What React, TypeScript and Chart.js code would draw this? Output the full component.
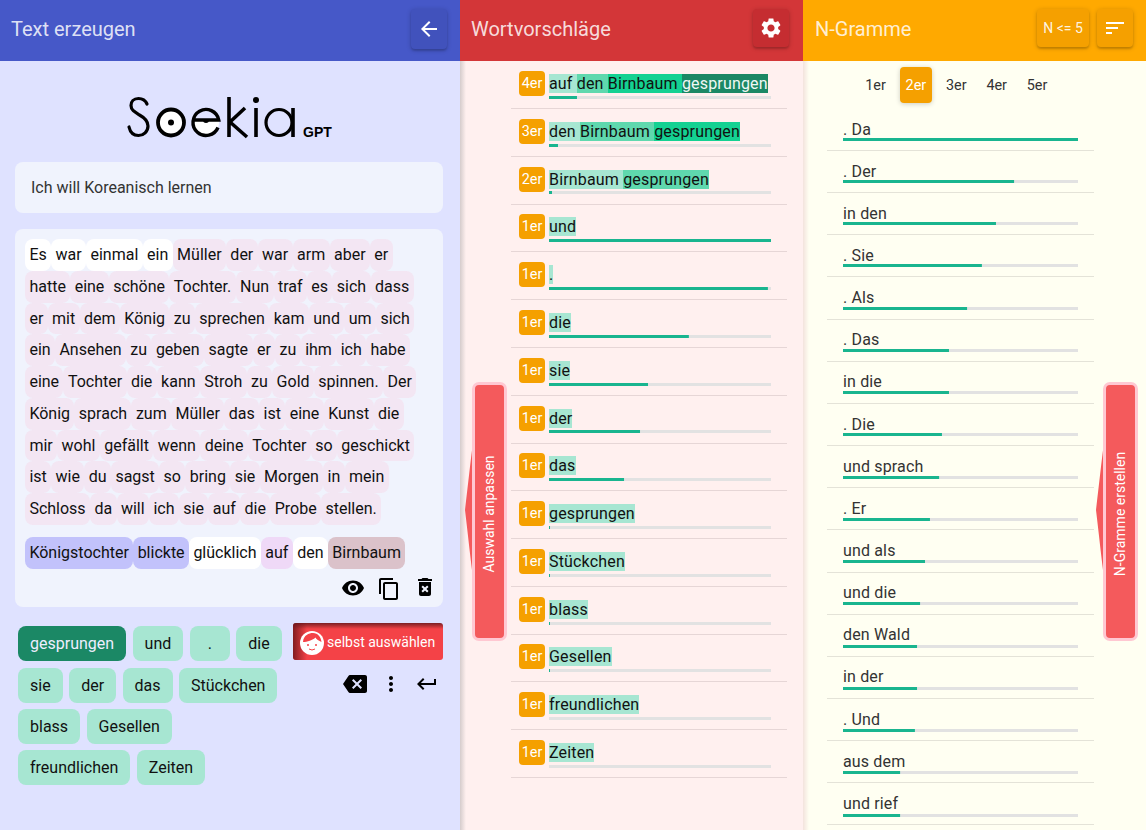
import React, { useEffect, useRef } from "react";
import { Chart, registerables } from "chart.js";

Chart.register(...registerables);

const suggestionWords = [
  ["auf", "den", "Birnbaum", "gesprungen"],
  ["den", "Birnbaum", "gesprungen"],
  ["Birnbaum", "gesprungen"],
  ["und"], ["."], ["die"], ["sie"], ["der"], ["das"], ["gesprungen"],
  ["Stückchen"], ["blass"], ["Gesellen"], ["freundlichen"], ["Zeiten"],
];
const suggestionValues = [12.6, 4.05, 1.35, 100, 98.6, 63, 44.6, 41, 33.8, 0.45, 0.45, 0.45, 0.45, 0, 0];

const ngramLabels = [
  ". Da", ". Der", "in den", ". Sie", ". Als", ". Das", "in die", ". Die", "und sprach",
  ". Er", "und als", "und die", "den Wald", "in der", ". Und", "aus dem", "und rief",
];
const ngramValues = [100, 72.8, 65.1, 59.1, 52.8, 45.1, 45.1, 42.1, 40.9, 37, 34.9, 32.8, 31.5, 31.5, 30.6, 24.3, 24.3];

const ngramTabs = ["1er", "2er", "3er", "4er", "5er"];

const storyLines = [
  "Es war einmal ein Müller der war arm aber er",
  "hatte eine schöne Tochter. Nun traf es sich dass",
  "er mit dem König zu sprechen kam und um sich",
  "ein Ansehen zu geben sagte er zu ihm ich habe",
  "eine Tochter die kann Stroh zu Gold spinnen. Der",
  "König sprach zum Müller das ist eine Kunst die",
  "mir wohl gefällt wenn deine Tochter so geschickt",
  "ist wie du sagst so bring sie Morgen in mein",
  "Schloss da will ich sie auf die Probe stellen.",
];
const generatedWords = ["Königstochter", "blickte", "glücklich", "auf", "den", "Birnbaum"];
const generatedColors = ["#c2c2fb", "#c2c2fb", "#ffffff", "#efd9f7", "#ffffff", "#dbc2ca"];
const chipRows = [
  ["gesprungen", "und", ".", "die"],
  ["sie", "der", "das", "Stückchen"],
  ["blass", "Gesellen"],
  ["freundlichen", "Zeiten"],
];

const FONT = "Roboto, sans-serif";
const SHADES = ["#a7e6d2", "#5fd8ae", "#14d192", "#1b8865"];
const ICONS: Record<string, string> = {
  back: "M20 11H7.83l5.59-5.59L12 4l-8 8 8 8 1.41-1.41L7.83 13H20v-2z",
  gear: "M19.14 12.94c.04-.3.06-.61.06-.94 0-.32-.02-.64-.07-.94l2.03-1.58c.18-.14.23-.41.12-.61l-1.92-3.32c-.12-.22-.37-.29-.59-.22l-2.39.96c-.5-.38-1.03-.7-1.62-.94l-.36-2.54c-.04-.24-.24-.41-.48-.41h-3.84c-.24 0-.43.17-.47.41l-.36 2.54c-.59.24-1.13.57-1.62.94l-2.39-.96c-.22-.08-.47 0-.59.22L2.74 8.87c-.12.21-.08.47.12.61l2.03 1.58c-.05.3-.09.63-.09.94s.02.64.07.94l-2.03 1.58c-.18.14-.23.41-.12.61l1.92 3.32c.12.22.37.29.59.22l2.39-.96c.5.38 1.03.7 1.62.94l.36 2.54c.05.24.24.41.48.41h3.84c.24 0 .44-.17.47-.41l.36-2.54c.59-.24 1.13-.56 1.62-.94l2.39.96c.22.08.47 0 .59-.22l1.92-3.32c.12-.22.07-.47-.12-.61l-2.01-1.58zM12 15.6c-1.98 0-3.6-1.62-3.6-3.6s1.62-3.6 3.6-3.6 3.6 1.62 3.6 3.6-1.62 3.6-3.6 3.6z",
  sort: "M3 18h6v-2H3v2zM3 6v2h18V6H3zm0 7h12v-2H3v2z",
  eye: "M12 4.5C7 4.5 2.73 7.61 1 12c1.73 4.39 6 7.5 11 7.5s9.27-3.11 11-7.5c-1.73-4.39-6-7.5-11-7.5zM12 17c-2.76 0-5-2.24-5-5s2.24-5 5-5 5 2.24 5 5-2.24 5-5 5zm0-8c-1.66 0-3 1.34-3 3s1.34 3 3 3 3-1.34 3-3-1.34-3-3-3z",
  copy: "M16 1H4c-1.1 0-2 .9-2 2v14h2V3h12V1zm3 4H8c-1.1 0-2 .9-2 2v14c0 1.1.9 2 2 2h11c1.1 0 2-.9 2-2V7c0-1.1-.9-2-2-2zm0 16H8V7h11v14z",
  trash: "M6 19c0 1.1.9 2 2 2h8c1.1 0 2-.9 2-2V7H6v12zm2.46-7.12l1.41-1.41L12 12.59l2.12-2.12 1.41 1.41L13.41 14l2.12 2.12-1.41 1.41L12 15.41l-2.12 2.12-1.41-1.41L10.59 14l-2.13-2.12zM15.5 4l-1-1h-5l-1 1H5v2h14V4z",
  backspace: "M22 3H7c-.69 0-1.23.35-1.59.88L0 12l5.41 8.11c.36.53.9.89 1.59.89h15c1.1 0 2-.9 2-2V5c0-1.1-.9-2-2-2zm-3 12.59L17.59 17 14 13.41 10.41 17 9 15.59 12.59 12 9 8.41 10.41 7 14 10.59 17.59 7 19 8.41 15.41 12 19 15.59z",
  more: "M12 8c1.1 0 2-.9 2-2s-.9-2-2-2-2 .9-2 2 .9 2 2 2zm0 2c-1.1 0-2 .9-2 2s.9 2 2 2 2-.9 2-2-.9-2-2-2zm0 6c-1.1 0-2 .9-2 2s.9 2 2 2 2-.9 2-2-.9-2-2-2z",
  ret: "M19 7v4H5.83l3.58-3.59L8 6l-6 6 6 6 1.41-1.41L5.83 13H21V7z",
};

type Box = { left: number; top: number; width: number; height: number };

// Keeps the thin bars on whole pixel rows so that they stay crisp.
const snapBars = {
  id: "snapBars",
  afterDatasetsUpdate(chart: any) {
    chart.data.datasets.forEach((_: any, i: number) => {
      chart.getDatasetMeta(i).data.forEach((el: any) => {
        el.y = Math.floor(el.y) + 0.5;
      });
    });
  },
};

function ProgressChart({ labels, values, box, padTop, padBottom }: { labels: string[]; values: number[]; box: Box; padTop: number; padBottom: number }) {
  const ref = useRef<HTMLCanvasElement>(null);
  useEffect(() => {
    if (!ref.current) return;
    const chart = new Chart(ref.current, {
      type: "bar",
      data: {
        labels,
        datasets: [
          { label: "Anteil", data: values, backgroundColor: "#19b58f", barThickness: 3, inflateAmount: 0, order: 1, grouped: false },
          { label: "Skala", data: labels.map(() => 100), backgroundColor: "#e2e2e2", barThickness: 3, inflateAmount: 0, order: 2, grouped: false },
        ],
      },
      options: {
        indexAxis: "y",
        animation: false,
        responsive: false,
        devicePixelRatio: 1,
        layout: { padding: { top: padTop, bottom: padBottom, left: 0, right: 0 } },
        plugins: { legend: { display: false }, tooltip: { enabled: false } },
        scales: {
          x: { display: false, min: 0, max: 100 },
          y: { display: false, type: "category" },
        },
      },
      plugins: [snapBars],
    } as any);
    return () => chart.destroy();
  }, [labels, values, padTop, padBottom]);
  return <canvas ref={ref} width={box.width} height={box.height} style={{ position: "absolute", ...box }} />;
}

function Icon({ name, cx, cy, size = 24, color = "#000" }: { name: string; cx: number; cy: number; size?: number; color?: string }) {
  return (
    <svg width={size} height={size} viewBox="0 0 24 24" style={{ position: "absolute", left: cx - size / 2, top: cy - size / 2 }}>
      <path d={ICONS[name]} fill={color} />
    </svg>
  );
}

function HeadButton({ left, width, bg, top = 9, height = 38, children }: any) {
  return (
    <div style={{ position: "absolute", left, top, width, height, background: bg, borderRadius: 4,
      boxShadow: "0 1px 5px rgba(0,0,0,.2), 0 2px 2px rgba(0,0,0,.14)" }}>{children}</div>
  );
}

function Title({ left, children }: any) {
  return (
    <div style={{ position: "absolute", left, top: 15, fontSize: 20, lineHeight: "28px", color: "rgba(255,255,255,.84)" }}>{children}</div>
  );
}

function Logo() {
  return (
    <svg role="img" aria-label="Soekia" width={210} height={50} viewBox="0 0 210 50" style={{ position: "absolute", left: 125, top: 93 }}>
      <g fill="none" stroke="#000" strokeWidth={3.2}>
        <path d="M22 11 C20 6.5 16.5 5.5 13.5 5.5 C8.5 5.5 6 9 6 12.5 C6 17 9.5 19 14.5 22 C20 25 23 28 23 33 C23 38.5 18.5 42.5 13.5 42.5 C8 42.5 5 38.5 4 34" strokeLinecap="round" />
        <circle cx={46} cy={29.5} r={13} fill="#fff" stroke="#000" strokeWidth={3.8} />
        <path d="M93.76 27 H68.24 A13 13 0 1 0 93.76 27" fill="#fff" stroke="none" />
        <path d="M93 34.5 A13 13 0 1 1 93.76 27 H68.24" strokeWidth={3.4} />
        <path d="M104 4 V44 M105 29 L120 15 M105 29 L122 44" strokeWidth={3.6} />
        <path d="M131 15 V44" strokeWidth={3.6} />
        <circle cx={154} cy={29.5} r={13} />
        <path d="M168 15 V44" strokeWidth={3.6} />
      </g>
      <circle cx={46} cy={29.5} r={3} fill="#000" />
      <path d="M78 27 h6 a3 3 0 0 1 -6 0z" fill="#000" />
      <circle cx={131} cy={7} r={3} fill="#000" />
      <text x={178} y={44} fontFamily="'Liberation Sans', Arial, sans-serif" fontWeight="700" fontSize={14}>GPT</text>
    </svg>
  );
}

function LeftPanel() {
  return (
    <div style={{ position: "absolute", left: 0, top: 0, width: 460, height: 830, background: "#dfe2ff" }}>
      <div style={{ position: "absolute", left: 0, top: 0, width: 460, height: 61, background: "#4658c8" }} />
      <Title left={11}>Text erzeugen</Title>
      <HeadButton left={411} width={36} height={40} bg="#4152bc"><Icon name="back" cx={18} cy={20} color="#fff" /></HeadButton>
      <Logo />
      <div style={{ position: "absolute", left: 15, top: 162, width: 428, height: 51, borderRadius: 8, background: "#f0f3fd" }} />
      <div style={{ position: "absolute", left: 31, top: 178, fontSize: 16, lineHeight: "20px", color: "#333" }}>Ich will Koreanisch lernen</div>
      <div style={{ position: "absolute", left: 15, top: 229, width: 428, height: 378, borderRadius: 8, background: "#f0f3fd" }} />
      {storyLines.map((line, r) => (
        <div key={r} style={{ position: "absolute", left: 25, top: 239 + r * 31.75, display: "flex", height: 31.75, whiteSpace: "pre" }}>
          {line.split(" ").map((w, i) => (
            <span key={i} style={{ padding: "0 4.4px", borderRadius: 8, lineHeight: "31.75px", fontSize: 16, color: "#111",
              background: r === 0 && i < 4 ? "#fff" : "#f3e6f3" }}>{w}</span>
          ))}
        </div>
      ))}
      <div style={{ position: "absolute", left: 25, top: 537, display: "flex", height: 32 }}>
        {generatedWords.map((w, i) => (
          <span key={i} style={{ padding: "0 4.4px", borderRadius: 8, lineHeight: "32px", fontSize: 16, color: "#111", background: generatedColors[i] }}>{w}</span>
        ))}
      </div>
      <Icon name="eye" cx={353} cy={588} />
      <Icon name="copy" cx={389} cy={589} />
      <Icon name="trash" cx={425} cy={587} />
      {chipRows.map((row, r) => (
        <div key={r} style={{ position: "absolute", left: 18, top: [626, 668, 709, 750][r], display: "flex", gap: 6.5 }}>
          {row.map((w, i) => (
            <span key={i} style={{ padding: "0 12px", height: 35, lineHeight: "35px", borderRadius: 8, fontSize: 16,
              background: r === 0 && i === 0 ? "#1b8865" : "#a7e6d2", color: r === 0 && i === 0 ? "#eef" : "#111",
              minWidth: w === "." ? 16 : undefined, textAlign: "center" }}>{w}</span>
          ))}
        </div>
      ))}
      <div style={{ position: "absolute", left: 293, top: 623, width: 150, height: 37, borderRadius: 3, overflow: "hidden",
        background: "linear-gradient(180deg, #7a2024 0, #f44247 6px), #f44247" }}>
        <div style={{ position: "absolute", left: 0, top: 0, width: 14, height: 37, background: "linear-gradient(90deg, rgba(110,20,25,.85), rgba(244,66,71,0))" }} />
        <svg width={24} height={24} viewBox="0 0 24 24" style={{ position: "absolute", left: 7, top: 8 }}>
          <circle cx={12} cy={12} r={12} fill="#fff" />
          <path d="M3 11 C3.5 4 9 2 13 2 C18 2 21 6 21.5 11 C19 10 16 8 15.5 6.5 C13 9 7 11 3 11z" fill="#f44247" />
          <circle cx={8} cy={14} r={1} fill="#f44247" /><circle cx={16} cy={14} r={1} fill="#f44247" />
          <path d="M9 18 q3 2 6 0" stroke="#f44247" strokeWidth={1} fill="none" />
        </svg>
        <span style={{ position: "absolute", left: 34, top: 9, fontSize: 14, lineHeight: "20px", color: "#fff", whiteSpace: "nowrap" }}>selbst auswählen</span>
      </div>
      <Icon name="backspace" cx={355} cy={684} />
      <Icon name="more" cx={391} cy={684} />
      <Icon name="ret" cx={427} cy={684} />
    </div>
  );
}

function SideTab({ left, label }: { left: number; label: string }) {
  return (
    <>
      <svg width={14} height={150} viewBox="0 0 14 150" style={{ position: "absolute", left: left - 7, top: 435 }}>
        <path d="M0 75 C3 50 5 30 9 0 L14 0 L14 150 L9 150 C5 120 3 100 0 75z" fill="#f45a5c" />
      </svg>
      <div style={{ position: "absolute", left, top: 382, width: 29, height: 253, background: "#f45a5c", border: "3px solid #ffc8d2", borderRadius: 7 }} />
      <div style={{ position: "absolute", left: left + 17 - 100, top: 504, width: 200, height: 20, lineHeight: "20px", textAlign: "center",
        transform: "rotate(-90deg)", color: "#fff", fontSize: 14, whiteSpace: "nowrap" }}>{label}</div>
    </>
  );
}

function MiddlePanel() {
  const step = 47.79;
  return (
    <div style={{ position: "absolute", left: 460, top: 0, width: 343, height: 830, background: "#fff0ef", overflow: "hidden" }}>
      <div style={{ position: "absolute", left: 0, top: 61, width: 6, height: 769, background: "linear-gradient(90deg, #d5cccc, rgba(255,240,239,0))" }} />
      <div style={{ position: "absolute", left: 0, top: 0, width: 343, height: 61, background: "#d33638" }} />
      <Title left={11}>Wortvorschläge</Title>
      <HeadButton left={293} width={36} bg="#c52d31"><Icon name="gear" cx={18} cy={19} color="#fff" /></HeadButton>
      {suggestionWords.map((words, i) => (
        <React.Fragment key={i}>
          <div style={{ position: "absolute", left: 59, top: 71 + i * step, width: 26, height: 25, borderRadius: 4, background: "#f5a000",
            color: "#fff", fontSize: 14.4, lineHeight: "25px", textAlign: "center" }}>{words.length}er</div>
          <div style={{ position: "absolute", left: 89, top: 74 + i * step, height: 19, display: "flex", whiteSpace: "pre", fontSize: 16, lineHeight: "19px", letterSpacing: ".17px" }}>
            {words.map((w, j) => (
              <span key={j} style={{ background: SHADES[j], color: j === 3 ? "#f1f8f5" : "#111" }}>{w}{j < words.length - 1 ? " " : ""}</span>
            ))}
          </div>
          <div style={{ position: "absolute", left: 51, top: 108 + i * step, width: 276, height: 1, background: "#e6d6d6" }} />
        </React.Fragment>
      ))}
      <SideTab left={12} label="Auswahl anpassen" />
    </div>
  );
}

function RightPanel() {
  const step = 42.15;
  return (
    <div style={{ position: "absolute", left: 803, top: 0, width: 343, height: 830, background: "#fffff2", overflow: "hidden" }}>
      <div style={{ position: "absolute", left: 0, top: 61, width: 6, height: 769, background: "linear-gradient(90deg, #f3e3dd, rgba(255,255,242,0))" }} />
      <div style={{ position: "absolute", left: 0, top: 0, width: 343, height: 61, background: "#ffa900" }} />
      <Title left={12}>N-Gramme</Title>
      <HeadButton left={234} width={52} bg="#f5a000">
        <div style={{ textAlign: "center", lineHeight: "38px", fontSize: 14, color: "rgba(255,255,255,.9)" }}>N &lt;= 5</div>
      </HeadButton>
      <HeadButton left={294} width={36} bg="#f5a000"><Icon name="sort" cx={18} cy={19} color="#fff" /></HeadButton>
      <div style={{ position: "absolute", left: 97, top: 67, width: 32, height: 36, borderRadius: 4, background: "#f5a000", boxShadow: "0 1px 5px rgba(0,0,0,.2)" }} />
      {ngramTabs.map((t, i) => (
        <div key={t} style={{ position: "absolute", left: 52.5 + i * 40.4, top: 75.5, width: 40, textAlign: "center", fontSize: 14.4, lineHeight: "20px",
          color: i === 1 ? "#fff" : "#333" }}>{t}</div>
      ))}
      {ngramLabels.map((label, i) => (
        <React.Fragment key={i}>
          <div style={{ position: "absolute", left: 40, top: 119.5 + i * step, fontSize: 16, lineHeight: "19px", letterSpacing: ".15px", color: "#333", whiteSpace: "pre" }}>{label}</div>
          <div style={{ position: "absolute", left: 24, top: 150 + i * step, width: 267, height: 1, background: "#e4e3d8" }} />
        </React.Fragment>
      ))}
      <SideTab left={300} label="N-Gramme erstellen" />
    </div>
  );
}

export default function App() {
  return (
    <div style={{ position: "absolute", left: 0, top: 0, width: 1146, height: 830, overflow: "hidden", fontFamily: FONT }}>
      <LeftPanel />
      <MiddlePanel />
      <RightPanel />
      <ProgressChart labels={suggestionWords.map((w) => w.join(" "))} values={suggestionValues} box={{ left: 549, top: 73, width: 222, height: 718 }} padTop={0.455} padBottom={0.695} />
      <ProgressChart labels={ngramLabels} values={ngramValues} box={{ left: 843, top: 117, width: 235, height: 720 }} padTop={0.9} padBottom={0.85} />
    </div>
  );
}
